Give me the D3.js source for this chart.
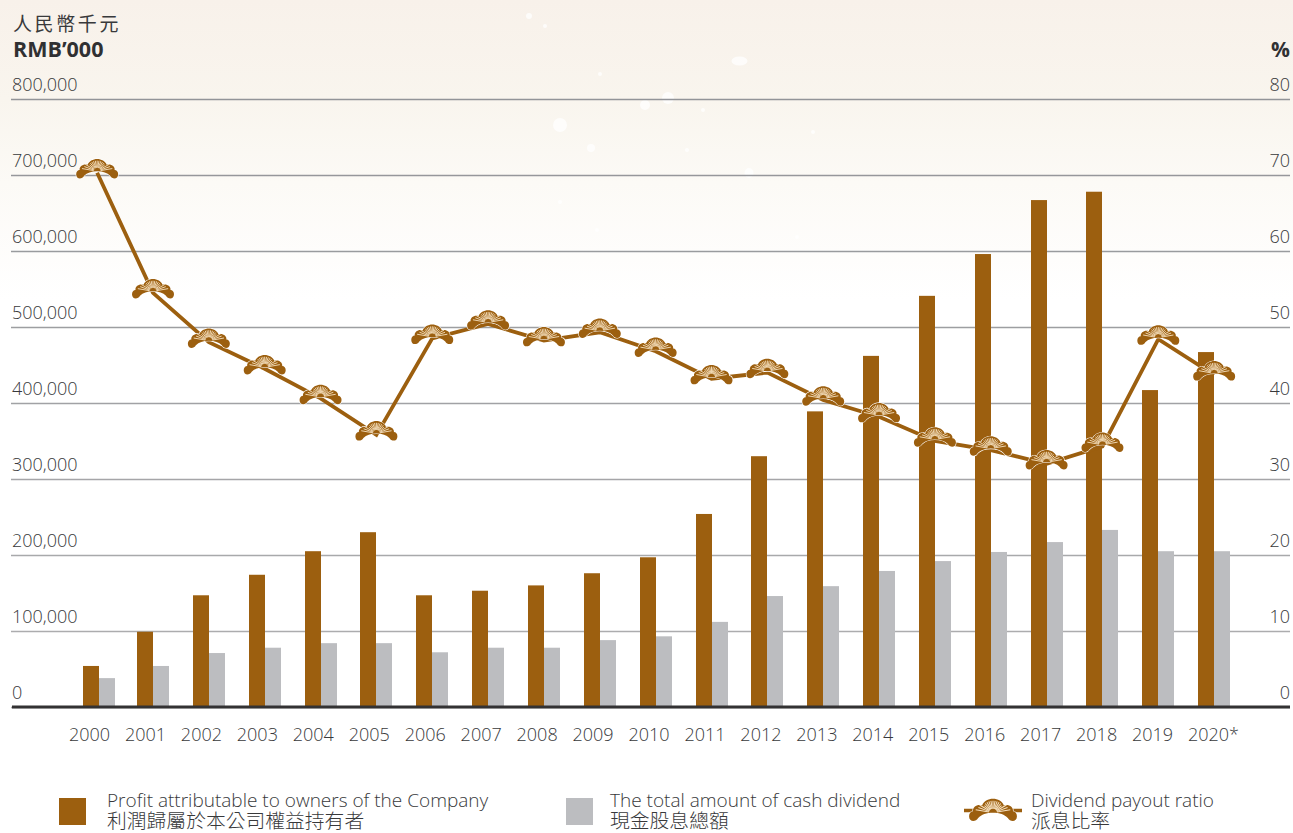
<!DOCTYPE html>
<html><head><meta charset="utf-8">
<script src="https://cdnjs.cloudflare.com/ajax/libs/d3/7.8.5/d3.min.js"></script>
<style>
html,body{margin:0;padding:0;background:#fff;overflow:hidden}
svg{display:block}
text{font-family:"Open Sans","Noto Sans CJK TC",sans-serif;font-weight:300;fill:#38393b}
.cjk{font-family:"Noto Sans CJK TC",sans-serif;font-weight:300}
</style></head><body>
<svg id="c" width="1293" height="833"></svg>
<script>
const years=["2000","2001","2002","2003","2004","2005","2006","2007","2008","2009","2010","2011","2012","2013","2014","2015","2016","2017","2018","2019","2020*"];
const profit=[54000,99000,147000,174000,205000,230000,147000,153000,160000,176000,197000,254000,330000,389000,462000,541000,596000,667000,678000,417000,467000];
const dividend=[38000,54000,71000,78000,84000,84000,72000,78000,78000,88000,93000,112000,146000,159000,179000,192000,204000,217000,233000,205000,205000];
const payout=[70.3,54.5,48,44.5,40.6,35.8,48.5,50.4,48.2,49.3,46.8,43.2,44,40.4,38.2,35,33.8,32,34.3,48.4,43.7];
const leftTicks=[0,100000,200000,300000,400000,500000,600000,700000,800000];
const rightTicks=[0,10,20,30,40,50,60,70,80];
const spots=[[529,16,3,3],[545,26,2,2],[739.5,61,8,4.5],[600,74,2,2],[668,98,6,6],[645,105,5,5],[703,110,2,2],[560,125,7,7],[591,148,4,4],[687,150,2,2],[813,132,2,2],[749,173,4.5,5],[560,202,2,2],[597,230,2,2],[797,237,2,2]];
const BROWN="#9c5f0f",GREY="#bcbdc0";
const svg=d3.select("#c");
const defs=svg.append("defs");
const g=defs.append("linearGradient").attr("id","bg").attr("x1",0).attr("x2",0).attr("y1",0).attr("y2",1);
[[0,"#f8f1ea"],[.12,"#f9f5ee"],[.22,"#fcfaf6"],[.36,"#ffffff"]].forEach(s=>g.append("stop").attr("offset",s[0]).attr("stop-color",s[1]));
svg.append("rect").attr("width",1293).attr("height",833).attr("fill","url(#bg)");
svg.append("g").selectAll("ellipse").data(spots).join("ellipse")
 .attr("cx",d=>d[0]).attr("cy",d=>d[1]).attr("rx",d=>d[2]).attr("ry",d=>d[3]).attr("fill","#fff").attr("opacity",.75);

const y=d3.scaleLinear().domain([0,800000]).range([707,99]);
const yR=d3.scaleLinear().domain([0,80]).range([707,99]);
const x=d3.scaleBand().domain(years).range([69.225,1242.075]);
const xLab=d3.scalePoint().domain(years).range([89,1208]);
const bw=16;
const lineShade=d3.scaleLinear().domain([100000,800000]).range(["#acacae","#929498"]);

// grid + left labels
const axL=svg.append("g").attr("transform","translate(11,0)")
 .call(d3.axisRight(y).tickValues(leftTicks).tickSize(1279).tickFormat(d3.format(",")));
axL.select(".domain").remove();
axL.selectAll("line").attr("stroke",d=>lineShade(d)).attr("stroke-width",1.3);
axL.selectAll("text").attr("x",1).attr("dy",-9).attr("text-anchor","start").attr("font-size",18);
axL.attr("font-family",null).attr("font-size",null);
// right labels
const axR=svg.append("g").attr("transform","translate(1290,0)")
 .call(d3.axisLeft(yR).tickValues(rightTicks).tickSize(0));
axR.select(".domain").remove();
axR.selectAll("text").attr("x",0).attr("dy",-9).attr("text-anchor","end").attr("font-size",18);
axR.attr("font-family",null).attr("font-size",null);

// bars
const barC=i=>Math.round(x(years[i])+x.bandwidth()/2+(i===0?1.85:0));
svg.append("g").selectAll("rect").data(profit).join("rect")
 .attr("x",(d,i)=>barC(i)-bw).attr("y",d=>y(d)).attr("width",bw).attr("height",d=>y(0)-y(d)).attr("fill",BROWN);
svg.append("g").selectAll("rect").data(dividend).join("rect")
 .attr("x",(d,i)=>barC(i)).attr("y",d=>y(d)).attr("width",bw).attr("height",d=>y(0)-y(d)).attr("fill",GREY);
// baseline
svg.append("line").attr("x1",12).attr("x2",1290).attr("y1",y(0)).attr("y2",y(0)).attr("stroke","#333233").attr("stroke-width",3);

// x axis
const axX=svg.append("g").attr("transform","translate(0,707)")
 .call(d3.axisBottom(xLab).tickSize(0));
axX.select(".domain").remove();
axX.selectAll("text").attr("y",0).attr("dy",34).attr("font-size",18).attr("x",d=>d.endsWith("*")?5:0);
axX.attr("font-family",null).attr("font-size",null);

// pine marker
const pinePath="M0,-1.5 C-6,-1.5 -10,0 -13,3 C-15,6.8 -21,6.8 -21,1.5 C-21,-1 -19.5,-2.8 -17.5,-2.8 C-18,-6.5 -14,-9.2 -9.5,-8 C-8.5,-11.5 -4,-13.8 0,-13.8 C4,-13.8 8.5,-11.5 9.5,-8 C14,-9.2 18,-6.5 17.5,-2.8 C19.5,-2.8 21,-1 21,1.5 C21,6.8 15,6.8 13,3 C10,0 6,-1.5 0,-1.5Z";
const rays=d3.range(-80,81,10);
const rayLen=a=>{const t=Math.abs(a);return t<=44?10.6:t<=56?9.8:t<=70?13.6:15.4};
const rad=a=>a*Math.PI/180;
function pine(sel,s){
 const i=sel.append("g").attr("transform",`scale(${s})`);
 i.append("path").attr("d",pinePath).attr("fill",BROWN).attr("stroke","#fff").attr("stroke-width",1.1).attr("paint-order","stroke");
 i.selectAll("line").data(rays).join("line")
  .attr("x1",a=>Math.sin(rad(a))*3.6).attr("y1",a=>-1.5-Math.cos(rad(a))*3.6)
  .attr("x2",a=>Math.sin(rad(a))*rayLen(a)).attr("y2",a=>-1.5-Math.cos(rad(a))*rayLen(a))
  .attr("stroke","#f6e2c2").attr("stroke-width",.9);
}
// line
const lx=(d,i)=>x(years[i])+x.bandwidth()/2;
const line=d3.line().x(lx).y(d=>yR(d));
svg.append("path").datum(payout).attr("d",line).attr("fill","none").attr("stroke",BROWN).attr("stroke-width",3.8);
payout.forEach((d,i)=>{
 const s=svg.append("g").attr("transform",`translate(${lx(d,i)},${yR(d)})`);
 pine(s,1);
});

// headers
svg.append("text").attr("class","cjk").attr("x",13).attr("y",31).attr("font-size",19).attr("letter-spacing",2.6).style("font-weight",400).text("人民幣千元");
svg.append("text").attr("x",13).attr("y",57).attr("font-size",21.5).style("font-weight",700).style("fill","#303032").text("RMB’000");
svg.append("text").attr("x",1290).attr("y",57).attr("text-anchor","end").attr("font-size",21).style("font-weight",700).style("fill","#303032").text("%");

// legend
const legend=[{x:107,kind:"bar",c:BROWN,bx:59,a:"Profit attributable to owners of the Company",b:"利潤歸屬於本公司權益持有者"},
{x:610,kind:"bar",c:GREY,bx:566,a:"The total amount of cash dividend",b:"現金股息總額"},
{x:1031,kind:"pine",a:"Dividend payout ratio",b:"派息比率"}];
legend.forEach(l=>{
 if(l.kind==="bar") svg.append("rect").attr("x",l.bx).attr("y",798).attr("width",27).attr("height",27).attr("fill",l.c);
 else{
  svg.append("line").attr("x1",964).attr("x2",1022).attr("y1",810.5).attr("y2",810.5).attr("stroke",BROWN).attr("stroke-width",3.4);
  const s=svg.append("g").attr("transform","translate(993,814.5)");
  pine(s,1.14);
 }
 const t=svg.append("text").attr("font-size",19);
 t.append("tspan").attr("x",l.x).attr("y",807).text(l.a);
 t.append("tspan").attr("class","cjk").attr("x",l.x).attr("y",827.5).attr("font-size",19.8).text(l.b);
});
</script></body></html>
